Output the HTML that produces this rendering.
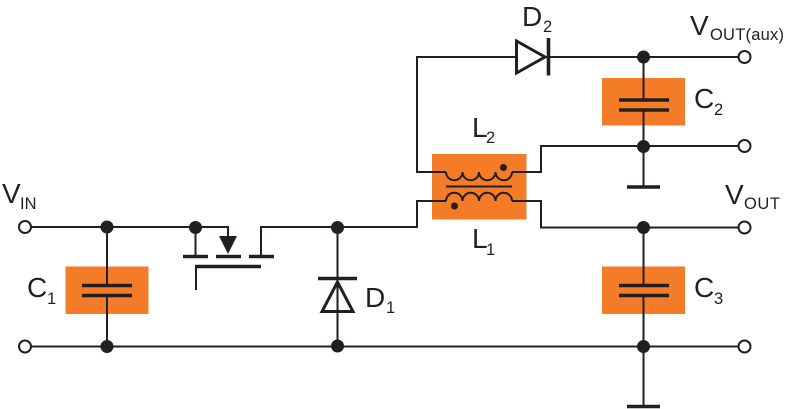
<!DOCTYPE html>
<html>
<head>
<meta charset="utf-8">
<style>
html,body{margin:0;padding:0;background:#fff;width:785px;height:409px;overflow:hidden}
svg{display:block}
text{font-family:"Liberation Sans",Arial,sans-serif;fill:#231f20}
.m{font-size:28px}
.s{font-size:16.5px}
.w{fill:none;stroke:#231f20;stroke-width:2}
.p{fill:none;stroke:#231f20;stroke-width:3.6}
.o{fill:#fff;stroke:#231f20;stroke-width:2}
.d{fill:#231f20}
.b{fill:#f47b28}
</style>
</head>
<body>
<svg width="785" height="409" viewBox="0 0 785 409" xmlns="http://www.w3.org/2000/svg">
<!-- orange boxes -->
<rect class="b" x="65.5" y="266.5" width="83" height="47.5"/>
<rect class="b" x="602" y="78" width="83" height="47.5"/>
<rect class="b" x="602" y="266.5" width="83" height="47.5"/>
<rect class="b" x="432" y="154" width="94.5" height="65.5"/>

<!-- wires -->
<path class="w" d="M31 227H228V238"/>
<path class="w" d="M195.5 227V255"/>
<path class="w" d="M261 255V227H417V201H446"/>
<path class="w" d="M31 346.5H738"/>
<path class="w" d="M107 227V285M107 295V346"/>
<path class="w" d="M337.5 227V346"/>
<path class="w" d="M446 172H417V57H738"/>
<path class="w" d="M512 172H541V146H738"/>
<path class="w" d="M512 201H541V227.5H738"/>
<path class="w" d="M643.5 57V100M643.5 110V186"/>
<path class="w" d="M643.5 227V285M643.5 295V405"/>

<!-- transformer -->
<path class="w" d="M446 172a8.25 8.25 0 0 0 16.5 0a8.25 8.25 0 0 0 16.5 0a8.25 8.25 0 0 0 16.5 0a8.25 8.25 0 0 0 16.5 0"/>
<path class="w" d="M446 201a8.25 8.25 0 0 1 16.5 0a8.25 8.25 0 0 1 16.5 0a8.25 8.25 0 0 1 16.5 0a8.25 8.25 0 0 1 16.5 0"/>
<path class="w" d="M446 186.5H512"/>
<circle class="d" cx="503.5" cy="167.5" r="3.5"/>
<circle class="d" cx="454.5" cy="206" r="3.5"/>

<!-- capacitor plates -->
<path class="p" d="M82 285.5H132M82 295.5H132"/>
<path class="p" d="M619 100H669M619 110H669"/>
<path class="p" d="M619 285.5H669M619 295.5H669"/>

<!-- grounds -->
<path class="p" d="M627 187H660"/>
<path class="p" d="M627 406.5H660"/>

<!-- MOSFET -->
<path class="p" d="M183 256.5H208M216 256.5H241M249 256.5H274"/>
<path d="M219 236H237L228 254Z" class="d"/>
<path d="M196 290V266.5H261" fill="none" stroke="#231f20" stroke-width="2"/>
<path d="M195 266.5H261" fill="none" stroke="#231f20" stroke-width="3.6"/>

<!-- D1 -->
<path class="p" d="M318 278.5H357"/>
<path d="M337.5 282L322 311.5H353Z" fill="none" stroke="#231f20" stroke-width="3"/>

<!-- D2 -->
<path d="M516.5 41V73L545 57Z" fill="#fff" stroke="#231f20" stroke-width="3"/>
<path class="p" d="M548.5 38V75.5"/>

<!-- junctions -->
<circle class="d" cx="107" cy="227" r="6.5"/>
<circle class="d" cx="107" cy="346.5" r="6.5"/>
<circle class="d" cx="195.5" cy="227.5" r="6.5"/>
<circle class="d" cx="337.5" cy="227.5" r="6.5"/>
<circle class="d" cx="337.5" cy="346" r="6.5"/>
<circle class="d" cx="643.5" cy="57" r="6.5"/>
<circle class="d" cx="643.5" cy="146.5" r="6.5"/>
<circle class="d" cx="643.5" cy="227.5" r="6.5"/>
<circle class="d" cx="643.5" cy="346.5" r="6.5"/>

<!-- terminals -->
<circle class="o" cx="25" cy="227" r="6"/>
<circle class="o" cx="25" cy="346.5" r="6"/>
<circle class="o" cx="744.5" cy="57" r="6"/>
<circle class="o" cx="744.5" cy="146" r="6"/>
<circle class="o" cx="744.5" cy="227.5" r="6"/>
<circle class="o" cx="744.5" cy="346.5" r="6"/>

<!-- labels -->
<text class="m" x="2" y="203">V</text><text class="s" x="20" y="209">IN</text>
<text class="m" x="27" y="297">C</text><text class="s" x="47" y="304">1</text>
<text class="m" x="365" y="307">D</text><text class="s" x="386" y="313">1</text>
<text class="m" x="522" y="26">D</text><text class="s" x="543" y="32">2</text>
<text class="m" x="690" y="35">V</text><text class="s" x="710" y="40" textLength="74">OUT(aux)</text>
<text class="m" x="694" y="108">C</text><text class="s" x="714" y="115">2</text>
<text class="m" x="472" y="137">L</text><text class="s" x="486" y="143">2</text>
<text class="m" x="472" y="248">L</text><text class="s" x="486" y="255">1</text>
<text class="m" x="725" y="204">V</text><text class="s" x="744" y="209" textLength="36">OUT</text>
<text class="m" x="694" y="297">C</text><text class="s" x="714" y="304">3</text>
</svg>
</body>
</html>
